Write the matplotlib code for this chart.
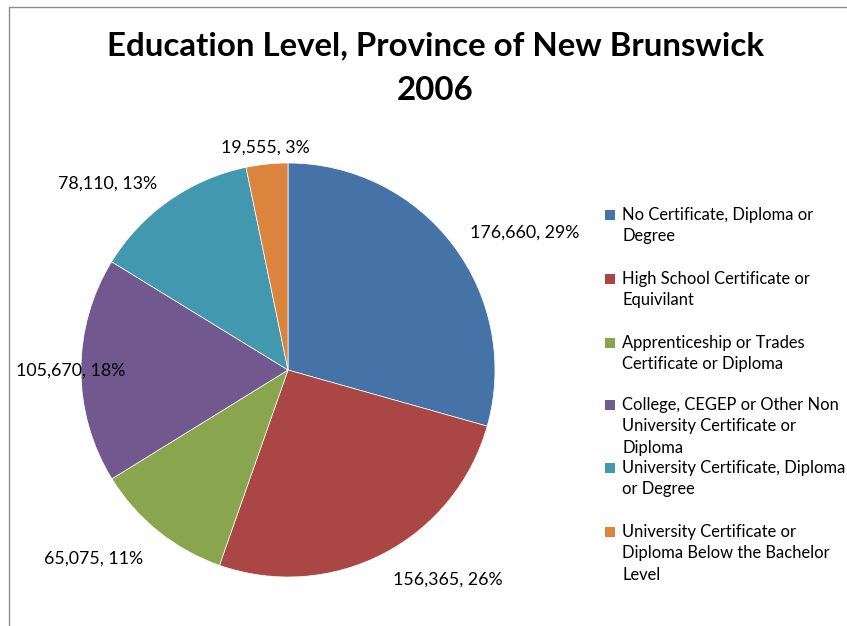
import numpy as np
import matplotlib.pyplot as plt
from matplotlib.patches import Rectangle

categories = [
    "No Certificate, Diploma or\nDegree",
    "High School Certificate or\nEquivilant",
    "Apprenticeship or Trades\nCertificate or Diploma",
    "College, CEGEP or Other Non\nUniversity Certificate or\nDiploma",
    "University Certificate, Diploma\nor Degree",
    "University Certificate or\nDiploma Below the Bachelor\nLevel",
]
counts = [176660, 156365, 65075, 105670, 78110, 19555]
colors = ["#4572A7", "#AA4643", "#89A54E", "#71588F", "#4198AF", "#DB843D"]

# layout for the data labels (radial distance, alignment) and legend rows
label_dist = [1.1, 1.1, 1.12, 1.05, 1.1, 1.08]
label_ha = ["left", "left", "right", "center", "right", "center"]
legend_y = [215, 279, 343, 405, 468, 532]

W, H = 847, 626
plt.rcParams["font.family"] = ["Lato", "DejaVu Sans"]
fig = plt.figure(figsize=(W / 100, H / 100), dpi=100)

# chart frame (only left and top edges visible)
fig.patches.append(Rectangle((9 / W, -0.1), 1.2, (H - 7) / H + 0.1, transform=fig.transFigure,
                             fill=False, edgecolor="#8c8c8c", lw=1))

cx, cy, r = 288, 370, 207
ax = fig.add_axes([(cx - r) / W, (H - cy - r) / H, 2 * r / W, 2 * r / H])
wedges, _ = ax.pie(counts, colors=colors, startangle=90, counterclock=False,
                   radius=1, wedgeprops=dict(edgecolor="white", linewidth=0.5))
ax.set_xlim(-1, 1)
ax.set_ylim(-1, 1)
ax.set_aspect("equal")
ax.axis("off")

total = sum(counts)
for w, c, d, ha in zip(wedges, counts, label_dist, label_ha):
    ang = np.deg2rad((w.theta1 + w.theta2) / 2)
    x, y = d * np.cos(ang), d * np.sin(ang)
    va = "top" if y < -0.8 else "center"
    ax.text(x, y, f"{c:,}, {round(100 * c / total)}%", ha=ha, va=va, fontsize=12.8,
            clip_on=False)

fig.text(435 / W, 1 - 68 / H, "Education Level, Province of New Brunswick\n2006",
         ha="center", va="center", fontsize=23.8, fontweight="bold", linespacing=1.65)

for lab, col, y in zip(categories, colors, legend_y):
    fig.patches.append(Rectangle((605 / W, 1 - (y + 5) / H), 10 / W, 10 / H,
                                 transform=fig.transFigure, facecolor=col, edgecolor="none"))
    fig.text(622 / W, 1 - (y - 8) / H, lab, ha="left", va="top", fontsize=11.9,
             linespacing=1.42)

fig.savefig("out.png", dpi=100)
